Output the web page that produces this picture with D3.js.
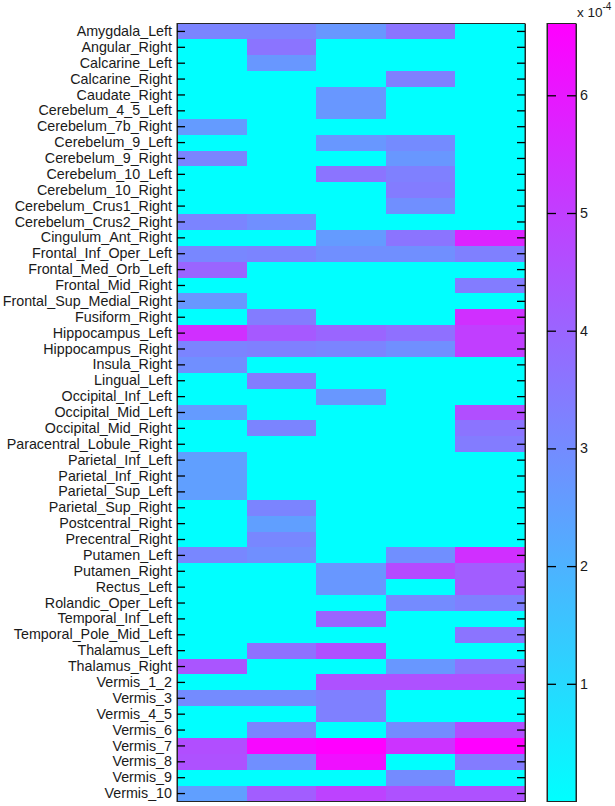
<!DOCTYPE html>
<html>
<head>
<meta charset="utf-8">
<script src="https://cdn.jsdelivr.net/npm/d3@7"></script>
<style>
  html, body { margin: 0; padding: 0; background: #ffffff; }
  svg { display: block; }
  text { font-family: "Liberation Sans", Arial, Helvetica, sans-serif; }
</style>
</head>
<body>
<script>
// ---- Data ----
const regions = [
  "Amygdala_Left", "Angular_Right", "Calcarine_Left", "Calcarine_Right", "Caudate_Right",
  "Cerebelum_4_5_Left", "Cerebelum_7b_Right", "Cerebelum_9_Left", "Cerebelum_9_Right",
  "Cerebelum_10_Left", "Cerebelum_10_Right", "Cerebelum_Crus1_Right", "Cerebelum_Crus2_Right",
  "Cingulum_Ant_Right", "Frontal_Inf_Oper_Left", "Frontal_Med_Orb_Left", "Frontal_Mid_Right",
  "Frontal_Sup_Medial_Right", "Fusiform_Right", "Hippocampus_Left", "Hippocampus_Right",
  "Insula_Right", "Lingual_Left", "Occipital_Inf_Left", "Occipital_Mid_Left",
  "Occipital_Mid_Right", "Paracentral_Lobule_Right", "Parietal_Inf_Left", "Parietal_Inf_Right",
  "Parietal_Sup_Left", "Parietal_Sup_Right", "Postcentral_Right", "Precentral_Right",
  "Putamen_Left", "Putamen_Right", "Rectus_Left", "Rolandic_Oper_Left", "Temporal_Inf_Left",
  "Temporal_Pole_Mid_Left", "Thalamus_Left", "Thalamus_Right", "Vermis_1_2", "Vermis_3",
  "Vermis_4_5", "Vermis_6", "Vermis_7", "Vermis_8", "Vermis_9", "Vermis_10"
];
const columns = [1, 2, 3, 4, 5];
// values in units of 1e-4, one array per column
const col1 = [3.2,0,0,0,0, 0,2.6,0,3.2, 0,0,0,3.2, 0,3.1,4.0,0, 2.7,0,5.4,3.2, 2.9,0,0,2.6, 0,0,2.5,2.5, 2.5,0,0,0, 3.1,0,0,0,0, 0,0,4.4,0,3.0, 0,0,4.6,4.5,0,2.5];
const col2 = [3.2,3.6,2.7,0,0, 0,0,0,0, 0,0,0,2.9, 0,3.2,0,0, 0,3.4,4.3,3.3, 0,3.4,0,0, 3.2,0,0,0, 0,3.2,2.5,3.1, 2.9,0,0,0,0, 0,3.7,0,0,3.0, 0,3.2,6.4,2.9,0,4.2];
const col3 = [2.7,0,0,0,2.7, 2.7,0,2.7,0, 3.6,0,0,0, 2.6,2.9,0,0, 0,0,4.0,3.2, 0,0,2.7,0, 0,0,0,0, 0,0,0,0, 0,2.7,2.7,0,4.0, 0,4.6,0,4.5,3.3, 3.3,0,6.61,6.2,0,4.9];
const col4 = [3.6,0,0,3.3,0, 0,0,3.0,2.7, 3.3,3.4,2.9,0, 3.6,2.9,0,0, 0,0,3.7,2.9, 0,0,0,0, 0,0,0,0, 0,0,0,0, 2.9,4.7,0,3.0,0, 0,0,2.7,4.5,0, 0,3.0,5.3,0,3.0,4.5];
const col5 = [0,0,0,0,0, 0,0,0,0, 0,0,0,0, 5.7,3.3,0,3.4, 0,5.4,5.0,5.0, 0,0,0,4.6, 3.6,3.4,0,0, 0,0,0,0, 5.4,4.2,4.2,3.3,0, 3.6,0,3.6,4.5,0, 0,4.6,6.61,3.4,0,4.5];
const seriesValues = [col1, col2, col3, col4, col5];
const colorbarTicks = [1, 2, 3, 4, 5, 6];
const colorbarExponent = "-4";

// ---- Layout ----
const W = 615, H = 806;
const plot = { left: 177, right: 525, top: 23.5, bottom: 801.5 };
const cbar = { left: 547, right: 576 };

const svg = d3.select("body").append("svg").attr("width", W).attr("height", H);

const cells = [];
seriesValues.forEach((arr, ci) => arr.forEach((v, ri) => cells.push({ col: columns[ci], row: regions[ri], v })));
const vmax = d3.max(cells, d => d.v);

const x = d3.scaleBand().domain(columns).range([plot.left, plot.right]).padding(0);
const y = d3.scaleBand().domain(regions).range([plot.top, plot.bottom]).padding(0);
const color = d3.scaleLinear().domain([0, vmax]).range(["#00ffff", "#ff00ff"]).interpolate(d3.interpolateRgb);

svg.append("g").selectAll("rect").data(cells).join("rect")
  .attr("x", d => x(d.col))
  .attr("y", d => y(d.row))
  .attr("width", x.bandwidth() + 0.5)
  .attr("height", y.bandwidth() + 0.5)
  .attr("fill", d => color(d.v))
  .attr("shape-rendering", "crispEdges");

// frame
const axisColor = "#262626";
svg.append("rect")
  .attr("x", plot.left).attr("y", plot.top)
  .attr("width", plot.right - plot.left).attr("height", plot.bottom - plot.top)
  .attr("fill", "none").attr("stroke", axisColor).attr("stroke-width", 1);

const yLeft = svg.append("g").attr("transform", `translate(${plot.left},0)`)
  .call(d3.axisLeft(y).tickSizeInner(-8).tickSizeOuter(0).tickPadding(5));
const yRight = svg.append("g").attr("transform", `translate(${plot.right},0)`)
  .call(d3.axisRight(y).tickSizeInner(-8).tickSizeOuter(0).tickFormat(""));
[yLeft, yRight].forEach(g => {
  g.select(".domain").attr("stroke", axisColor);
  g.selectAll(".tick line").attr("stroke", "#000").attr("stroke-width", 1.3);
});
yLeft.selectAll("text").attr("font-size", 14.3).attr("fill", "#1a1a1a")
  .attr("font-family", '"Liberation Sans", Arial, sans-serif');

// ---- Colorbar ----
const cy = d3.scaleLinear().domain([0, vmax]).range([plot.bottom, plot.top]);
const defs = svg.append("defs");
const grad = defs.append("linearGradient").attr("id", "cool")
  .attr("x1", 0).attr("y1", 1).attr("x2", 0).attr("y2", 0);
grad.append("stop").attr("offset", "0%").attr("stop-color", color(0));
grad.append("stop").attr("offset", "100%").attr("stop-color", color(vmax));

svg.append("rect")
  .attr("x", cbar.left).attr("y", cy(vmax))
  .attr("width", cbar.right - cbar.left).attr("height", cy(0) - cy(vmax))
  .attr("fill", "url(#cool)").attr("stroke", axisColor).attr("stroke-width", 1);

const cL = svg.append("g").attr("transform", `translate(${cbar.left},0)`)
  .call(d3.axisLeft(cy).tickValues(colorbarTicks).tickSizeInner(-9).tickSizeOuter(0).tickFormat(""));
const cR = svg.append("g").attr("transform", `translate(${cbar.right},0)`)
  .call(d3.axisRight(cy).tickValues(colorbarTicks).tickSizeInner(-9).tickSizeOuter(0).tickPadding(4).tickFormat(d3.format("d")));
[cL, cR].forEach(g => {
  g.select(".domain").attr("stroke", axisColor);
  g.selectAll(".tick line").attr("stroke", "#000").attr("stroke-width", 1.3);
});
cR.selectAll("text").attr("font-size", 14.3).attr("fill", "#1a1a1a")
  .attr("font-family", '"Liberation Sans", Arial, sans-serif');

// exponent label
const ex = svg.append("text").attr("x", cbar.right + 1).attr("y", 17)
  .attr("font-size", 13.5).attr("fill", "#1a1a1a");
ex.append("tspan").text("x 10");
ex.append("tspan").attr("dy", -7).attr("font-size", 10).text(colorbarExponent);
</script>
</body>
</html>
